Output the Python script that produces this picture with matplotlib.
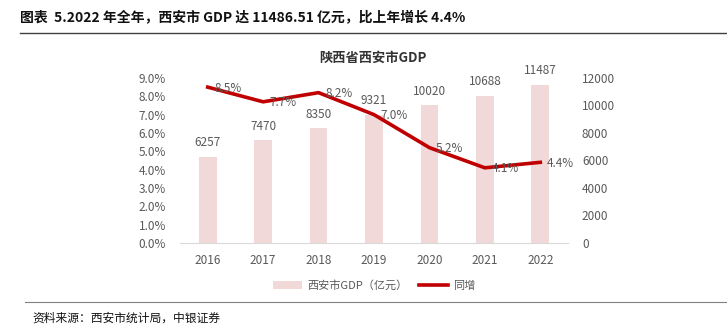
import matplotlib
matplotlib.use('Agg')
import matplotlib.pyplot as plt
from matplotlib.ticker import FuncFormatter

plt.rcParams['font.family'] = ['Noto Sans CJK SC', 'DejaVu Sans']

years = ['2016', '2017', '2018', '2019', '2020', '2021', '2022']
gdp = [6257, 7470, 8350, 9321, 10020, 10688, 11487]
growth = [8.5, 7.7, 8.2, 7.0, 5.2, 4.1, 4.4]

BAR = '#f2d9d9'
LINE = '#c00000'
GRAY = '#595959'

fig = plt.figure(figsize=(7.27, 3.29), dpi=100)

# header + rules
fig.text(0.028, 0.945, '图表  5.2022 年全年，西安市 GDP 达 11486.51 亿元，比上年增长 4.4%',
         fontsize=10, fontweight='bold', color='#111111', va='center')
fig.add_artist(plt.Line2D([0.028, 1.0], [0.9, 0.9], color='#404040', lw=1))
fig.add_artist(plt.Line2D([0.034, 1.0], [0.082, 0.082], color='#808080', lw=0.8))
fig.text(0.045, 0.033, '资料来源：西安市统计局，中银证券', fontsize=8.5,
         style='italic', color='#111111', va='center')

ax = fig.add_axes([0.2476, 0.2614, 0.5337, 0.5016])
ax2 = ax.twinx()
ax.set_zorder(ax2.get_zorder() + 1)
ax.patch.set_visible(False)

x = list(range(len(years)))
bars = ax2.bar(x, gdp, width=0.32, color=BAR, label='西安市GDP（亿元）')
ax2.set_ylim(0, 12000)
ax2.set_yticks(range(0, 12001, 2000))
for xi, v in zip(x, gdp):
    ax2.text(xi, v + 550, str(v), ha='center', va='bottom', fontsize=8.5, color=GRAY)

line, = ax.plot(x, growth, color=LINE, lw=2.6, label='同增')
ax.set_ylim(0, 9)
ax.set_yticks(range(0, 10))
ax.yaxis.set_major_formatter(FuncFormatter(lambda v, p: f'{v:.1f}%'))
for xi, v in zip(x, growth):
    ax.text(xi + 0.12, v - 0.05, f'{v:.1f}%', ha='left', va='center', fontsize=8.5, color=GRAY)

ax.set_xlim(-0.5, len(years) - 0.5)
ax.set_xticks(x)
ax.set_xticklabels(years)

for a in (ax, ax2):
    for s in a.spines.values():
        s.set_visible(False)
    a.tick_params(length=0, labelsize=8.5, colors=GRAY)
ax.spines['bottom'].set_visible(True)
ax.spines['bottom'].set_color('#d9d9d9')
ax.tick_params(axis='x', pad=8)
ax.tick_params(axis='y', pad=10)
ax2.tick_params(axis='y', pad=10)

fig.text(0.513, 0.825, '陕西省西安市GDP', ha='center', va='center',
         fontsize=9.5, fontweight='bold', color='#333333')

fig.legend([bars, line], ['西安市GDP（亿元）', '同增'], loc='center',
           bbox_to_anchor=(0.515, 0.133), ncol=2, frameon=False, fontsize=8,
           labelcolor=GRAY, handlelength=2.6, columnspacing=1.0, handletextpad=0.5)

fig.savefig('out.png', dpi=100)
